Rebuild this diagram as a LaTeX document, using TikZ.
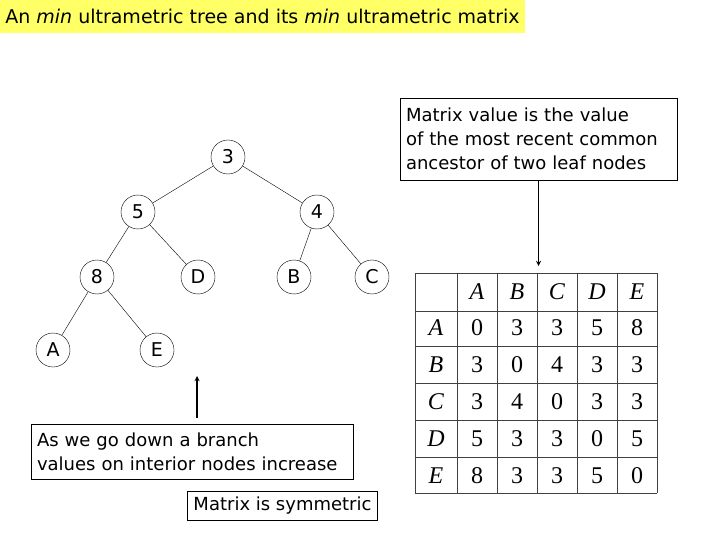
\documentclass[tikz,border=0pt]{standalone}
\usepackage{fontspec}
\setmainfont{DejaVu Sans}
\newfontfamily\tabfont{Liberation Serif}
\definecolor{titleyellow}{RGB}{255,255,102}
\tikzset{
  treenode/.style={circle, draw, minimum size=34pt, inner sep=0pt, font=\fontsize{19}{19}\selectfont},
  notebox/.style={rectangle, draw, align=left, inner xsep=6pt, inner ysep=4pt, font=\fontsize{18}{24}\selectfont},
  cell/.style={font=\tabfont\fontsize{24}{24}\selectfont},
  tabline/.style={draw=black!75, line width=0.8pt},
}
\begin{document}
\begin{tikzpicture}[x=1pt,y=-1pt]
\useasboundingbox (0,0) rectangle (720,540);
\path
(262.5,16.5) node[fill=titleyellow, minimum width=525pt, minimum height=33pt, inner sep=0pt, font=\fontsize{19}{19}\selectfont](title){An \textit{min} ultrametric tree and its \textit{min} ultrametric matrix}
(228,157) node[treenode](n3){3}
(138,212) node[treenode](n5){5}
(317,212) node[treenode](n4){4}
(97,277) node[treenode](n8){8}
(198,277) node[treenode](nD){D}
(294,277) node[treenode](nB){B}
(372,277) node[treenode](nC){C}
(53,350) node[treenode](nA){A}
(157,350) node[treenode](nE){E}
(538.5,139) node[notebox, text width=265pt, minimum height=82pt](rbox){Matrix value is the value\\of the most recent common\\ancestor of two leaf nodes}
(192,451.5) node[notebox, text width=310pt, minimum height=55pt](lbox){As we go down a branch\\values on interior nodes increase}
(282.5,505.5) node[notebox, minimum width=187pt, minimum height=29pt](sbox){Matrix is symmetric}
(538.5,266) coordinate(mtop)
(197,376) coordinate(btip)
;
\draw (n3)--(n5);
\draw (n3)--(n4);
\draw (n5)--(n8);
\draw (n5)--(nD);
\draw (n4)--(nB);
\draw (n4)--(nC);
\draw (n8)--(nA);
\draw (n8)--(nE);
\draw[-stealth,line width=1.3pt] (rbox)--(mtop);
\draw[-stealth,line width=1.3pt,shorten <=6pt] ([xshift=5pt]lbox.north)--(btip);
\foreach \x in {415,457,497,537,577,617,657}
  \draw[tabline] (\x,273)--(\x,493);
\foreach \y in {273,311,346,383,420,457,493}
  \draw[tabline] (415,\y)--(657,\y);
\foreach \lab [count=\i] in {A,B,C,D,E} {
  \node[cell] (col-\i) at ({437+40*\i},292) {\textit{\lab}};
  \node[cell] (row-\i) at (436,{291+37*\i}) {\textit{\lab}};
}
\foreach \row [count=\i] in {{0,3,3,5,8},{3,0,4,3,3},{3,4,0,3,3},{5,3,3,0,5},{8,3,3,5,0}}
  \foreach \v [count=\j] in \row
    \node[cell] (m-\i-\j) at ({437+40*\j},{291+37*\i}) {\v};
\end{tikzpicture}
\end{document}
